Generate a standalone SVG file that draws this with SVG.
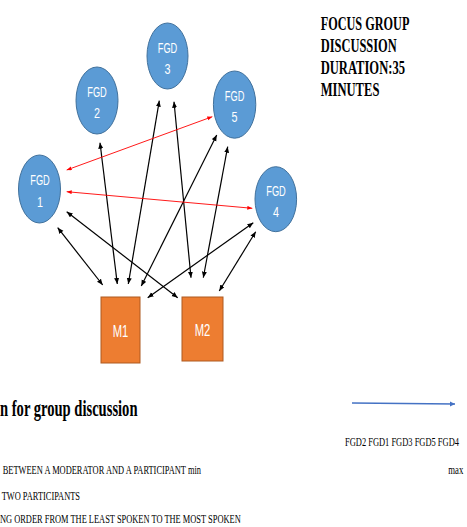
<svg xmlns="http://www.w3.org/2000/svg" width="467" height="527" viewBox="0 0 467 527">
<style>
.node ellipse{fill:#5B9BD5;stroke:#41719C;stroke-width:1}
.node rect{fill:#ED7D31;stroke:#AE5A21;stroke-width:1}
.lbl{font-family:"Liberation Sans","Open Sans",sans-serif;fill:#FFFFFF;text-anchor:middle}
.blk{stroke:#000;stroke-width:1.2;fill:none;marker-start:url(#ab);marker-end:url(#ab)}
.red{stroke:#FF0000;stroke-width:0.9;fill:none;marker-start:url(#ar);marker-end:url(#ar)}
.serif{font-family:"Liberation Serif","Times New Roman",serif;fill:#000}
.hd{font-weight:bold;font-size:19px}
.sm{font-size:11.6px}
</style>
<defs>
<marker id="ab" markerUnits="userSpaceOnUse" markerWidth="7" markerHeight="6" refX="6" refY="2.5" orient="auto-start-reverse"><path d="M0,0 L6,2.5 L0,5 z" fill="#000"/></marker>
<marker id="ar" markerUnits="userSpaceOnUse" markerWidth="6" markerHeight="5" refX="5" refY="2" orient="auto-start-reverse"><path d="M0,0 L5,2 L0,4 z" fill="#FF0000"/></marker>
<marker id="abl" markerUnits="userSpaceOnUse" markerWidth="7" markerHeight="6" refX="5" refY="2.5" orient="auto"><path d="M0,0 L5,2.5 L0,5 z" fill="#4472C4"/></marker>
</defs>
<rect width="467" height="527" fill="#FFFFFF"/>
<g id="connectors">
<line class="blk" x1="57.7" y1="227.7" x2="102.7" y2="285"/>
<line class="blk" x1="66.7" y1="211.7" x2="177.7" y2="297.7"/>
<line class="blk" x1="100" y1="142.7" x2="117.3" y2="284"/>
<line class="blk" x1="159.3" y1="100.7" x2="128.3" y2="284"/>
<line class="blk" x1="216.7" y1="135" x2="141.3" y2="286"/>
<line class="blk" x1="253.3" y1="222.7" x2="147.7" y2="297.7"/>
<line class="blk" x1="174" y1="101.7" x2="191" y2="277.7"/>
<line class="blk" x1="227.7" y1="146.7" x2="203.3" y2="277.7"/>
<line class="blk" x1="255.7" y1="231.7" x2="219.3" y2="291"/>
<line class="red" x1="66.7" y1="170" x2="212.3" y2="116.7"/>
<line class="red" x1="66.7" y1="191.7" x2="252.3" y2="208.3"/>
<line x1="352" y1="403" x2="455" y2="404" stroke="#4472C4" stroke-width="1.5" marker-end="url(#abl)"/>
</g>
<g id="fgd1" class="node"><ellipse cx="39.5" cy="189" rx="21" ry="34"/><text class="lbl" x="40" y="185.2" font-size="15.5" textLength="19.5" lengthAdjust="spacingAndGlyphs">FGD</text><text class="lbl" x="40" y="206.5" font-size="15.5" textLength="6" lengthAdjust="spacingAndGlyphs">1</text></g>
<g id="fgd2" class="node"><ellipse cx="97" cy="100.5" rx="21" ry="33.5"/><text class="lbl" x="97" y="96.5" font-size="15.5" textLength="19.5" lengthAdjust="spacingAndGlyphs">FGD</text><text class="lbl" x="97" y="117.5" font-size="15.5" textLength="6" lengthAdjust="spacingAndGlyphs">2</text></g>
<g id="fgd3" class="node"><ellipse cx="167.5" cy="56" rx="20.5" ry="33"/><text class="lbl" x="167.5" y="52.8" font-size="15.5" textLength="19.5" lengthAdjust="spacingAndGlyphs">FGD</text><text class="lbl" x="167.5" y="73.8" font-size="15.5" textLength="6" lengthAdjust="spacingAndGlyphs">3</text></g>
<g id="fgd5" class="node"><ellipse cx="234.6" cy="104.6" rx="21.2" ry="33.6"/><text class="lbl" x="234.6" y="100.8" font-size="15.5" textLength="19.5" lengthAdjust="spacingAndGlyphs">FGD</text><text class="lbl" x="234.6" y="122" font-size="15.5" textLength="6" lengthAdjust="spacingAndGlyphs">5</text></g>
<g id="fgd4" class="node"><ellipse cx="275.8" cy="199.2" rx="20.8" ry="32.5"/><text class="lbl" x="276" y="195.5" font-size="15.5" textLength="19.5" lengthAdjust="spacingAndGlyphs">FGD</text><text class="lbl" x="276" y="216.5" font-size="15.5" textLength="6" lengthAdjust="spacingAndGlyphs">4</text></g>
<g id="m1" class="node"><rect x="101" y="297" width="39" height="66"/><text class="lbl" x="120.5" y="336.5" font-size="17" textLength="15.6" lengthAdjust="spacingAndGlyphs">M1</text></g>
<g id="m2" class="node"><rect x="182" y="297" width="41" height="64"/><text class="lbl" x="202.5" y="335.5" font-size="17" textLength="15.6" lengthAdjust="spacingAndGlyphs">M2</text></g>
<g id="heading" class="serif hd">
<text x="320.7" y="30" textLength="88.7" lengthAdjust="spacingAndGlyphs">FOCUS GROUP</text>
<text x="320.7" y="51.8" textLength="76" lengthAdjust="spacingAndGlyphs">DISCUSSION</text>
<text x="320.7" y="73.8" textLength="84.3" lengthAdjust="spacingAndGlyphs">DURATION:35</text>
<text x="320.7" y="95.7" textLength="58.7" lengthAdjust="spacingAndGlyphs">MINUTES</text>
</g>
<g id="legend" class="serif">
<text x="0" y="416" font-size="24" font-weight="bold" textLength="137.5" lengthAdjust="spacingAndGlyphs">n for group discussion</text>
<text transform="translate(345,446) scale(0.692,1)" x="0" y="0" font-size="12.2" textLength="164.7" lengthAdjust="spacingAndGlyphs">FGD2 FGD1 FGD3 FGD5 FGD4</text>
<text class="sm" x="2.7" y="474.3" textLength="198.3" lengthAdjust="spacingAndGlyphs">BETWEEN A MODERATOR AND A PARTICIPANT min</text>
<text class="sm" x="448.3" y="473.5" textLength="15" lengthAdjust="spacingAndGlyphs">max</text>
<text class="sm" x="1.7" y="500" textLength="78.3" lengthAdjust="spacingAndGlyphs">TWO PARTICIPANTS</text>
<text class="sm" x="0" y="523.3" textLength="240.7" lengthAdjust="spacingAndGlyphs">NG ORDER FROM THE LEAST SPOKEN TO THE MOST SPOKEN</text>
</g>
</svg>
